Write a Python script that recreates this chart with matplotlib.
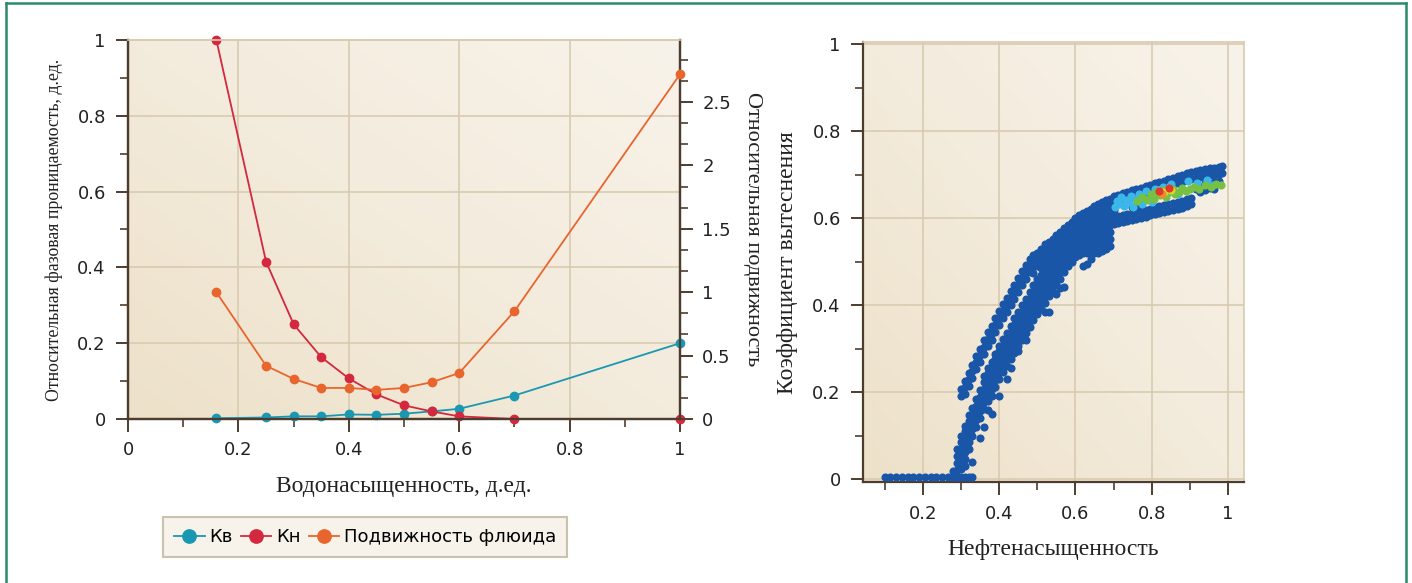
import numpy as np
import matplotlib
matplotlib.use("Agg")
import matplotlib.pyplot as plt
from matplotlib.ticker import MultipleLocator, FuncFormatter
from matplotlib.lines import Line2D
from matplotlib.colors import LinearSegmentedColormap

# ---------------- left chart data ----------------
sw = [0.16, 0.25, 0.30, 0.35, 0.40, 0.45, 0.50, 0.55, 0.60, 0.70, 1.00]
kw = [0.002, 0.004, 0.007, 0.007, 0.012, 0.011, 0.014, 0.020, 0.027, 0.062, 0.200]
ko = [1.000, 0.415, 0.250, 0.163, 0.107, 0.065, 0.036, 0.020, 0.007, 0.000, 0.000]
mob = [1.00, 0.42, 0.316, 0.245, 0.245, 0.23, 0.245, 0.29, 0.363, 0.85, 2.72]
series_names = ["Кв", "Кн", "Подвижность флюида"]

# ---------------- right chart data (columns of points) ----------------
blue_x = [0.100, 0.115, 0.130, 0.145, 0.160, 0.175, 0.190, 0.205, 0.220, 0.235,
          0.250, 0.265, 0.280, 0.290, 0.300, 0.310, 0.320, 0.330, 0.340, 0.350,
          0.360, 0.370, 0.380, 0.390, 0.400, 0.410, 0.420, 0.430, 0.440, 0.450,
          0.460, 0.470, 0.480, 0.490, 0.500, 0.510, 0.520, 0.530, 0.540, 0.550,
          0.560, 0.570, 0.580, 0.590, 0.600, 0.610, 0.620, 0.630, 0.640, 0.650,
          0.660, 0.670, 0.680, 0.690, 0.700, 0.712, 0.724, 0.736, 0.748, 0.760,
          0.772, 0.784, 0.796, 0.808, 0.820, 0.832, 0.844, 0.856, 0.868, 0.880,
          0.892, 0.904, 0.916, 0.928, 0.940, 0.952, 0.964, 0.976, 0.984]
blue_y = [
    [0.005], [0.005], [0.005], [0.005], [0.005], [0.005], [0.005], [0.005], [0.005], [0.005],
    [0.005], [0.005], [0.005, 0.018],
    [0.005, 0.020, 0.036, 0.052, 0.068],
    [0.005, 0.022, 0.038, 0.054, 0.070, 0.086, 0.100, 0.190, 0.206],
    [0.005, 0.030, 0.046, 0.062, 0.078, 0.094, 0.110, 0.122, 0.196, 0.212, 0.226],
    [0.005, 0.070, 0.086, 0.102, 0.118, 0.134, 0.148, 0.214, 0.230, 0.244],
    [0.005, 0.040, 0.100, 0.116, 0.132, 0.148, 0.164, 0.232, 0.248, 0.262],
    [0.120, 0.136, 0.152, 0.168, 0.184, 0.252, 0.268, 0.282],
    [0.095, 0.140, 0.156, 0.172, 0.188, 0.204, 0.270, 0.286, 0.300],
    [0.120, 0.160, 0.176, 0.192, 0.208, 0.224, 0.236, 0.288, 0.304, 0.320],
    [0.158, 0.180, 0.196, 0.212, 0.228, 0.244, 0.256, 0.306, 0.322, 0.338],
    [0.150, 0.190, 0.206, 0.222, 0.238, 0.254, 0.270, 0.320, 0.336, 0.352],
    [0.212, 0.228, 0.244, 0.260, 0.276, 0.288, 0.338, 0.354, 0.370],
    [0.190, 0.230, 0.246, 0.262, 0.278, 0.294, 0.306, 0.355, 0.370, 0.386],
    [0.245, 0.261, 0.277, 0.293, 0.309, 0.322, 0.370, 0.386, 0.402],
    [0.230, 0.260, 0.276, 0.292, 0.308, 0.324, 0.336, 0.385, 0.400, 0.416],
    [0.256, 0.275, 0.291, 0.307, 0.323, 0.339, 0.352, 0.400, 0.416, 0.432],
    [0.290, 0.306, 0.322, 0.338, 0.354, 0.370, 0.415, 0.430, 0.446],
    [0.295, 0.305, 0.321, 0.337, 0.353, 0.369, 0.385, 0.430, 0.446, 0.462],
    [0.320, 0.336, 0.352, 0.368, 0.384, 0.400, 0.446, 0.462, 0.478],
    [0.320, 0.335, 0.351, 0.367, 0.383, 0.399, 0.415, 0.460, 0.476, 0.492],
    [0.350, 0.366, 0.382, 0.398, 0.414, 0.430, 0.476, 0.492, 0.506],
    [0.365, 0.381, 0.397, 0.413, 0.429, 0.445, 0.474, 0.490, 0.506, 0.516],
    [0.380, 0.396, 0.412, 0.428, 0.444, 0.460, 0.490, 0.506, 0.520],
    [0.390, 0.406, 0.422, 0.438, 0.454, 0.470, 0.486, 0.502, 0.518, 0.530],
    [0.383, 0.405, 0.421, 0.437, 0.453, 0.469, 0.485, 0.501, 0.517, 0.533, 0.540],
    [0.383, 0.420, 0.436, 0.452, 0.468, 0.484, 0.500, 0.516, 0.532, 0.545],
    [0.430, 0.446, 0.462, 0.478, 0.494, 0.510, 0.526, 0.542, 0.552],
    [0.425, 0.445, 0.461, 0.477, 0.493, 0.509, 0.525, 0.541, 0.557, 0.560],
    [0.440, 0.460, 0.476, 0.492, 0.508, 0.524, 0.540, 0.556, 0.568],
    [0.442, 0.475, 0.491, 0.507, 0.523, 0.539, 0.555, 0.571, 0.577],
    [0.490, 0.506, 0.522, 0.538, 0.554, 0.570, 0.585],
    [0.500, 0.516, 0.532, 0.548, 0.564, 0.580, 0.592],
    [0.510, 0.526, 0.542, 0.558, 0.574, 0.590, 0.600],
    [0.515, 0.531, 0.547, 0.563, 0.579, 0.595, 0.606],
    [0.490, 0.520, 0.536, 0.552, 0.568, 0.584, 0.600, 0.612],
    [0.495, 0.520, 0.536, 0.552, 0.568, 0.584, 0.600, 0.616],
    [0.505, 0.520, 0.536, 0.552, 0.568, 0.584, 0.600, 0.616, 0.622],
    [0.520, 0.536, 0.552, 0.568, 0.584, 0.600, 0.616, 0.627],
    [0.520, 0.536, 0.552, 0.568, 0.584, 0.600, 0.616, 0.632],
    [0.525, 0.541, 0.557, 0.573, 0.589, 0.605, 0.621, 0.636],
    [0.530, 0.546, 0.562, 0.578, 0.594, 0.610, 0.626, 0.641],
    [0.535, 0.551, 0.567, 0.583, 0.599, 0.615, 0.631, 0.645],
    [0.586, 0.602, 0.618, 0.634, 0.650],
    [0.588, 0.604, 0.638, 0.654],
    [0.590, 0.606, 0.642, 0.658],
    [0.593, 0.609, 0.645, 0.661],
    [0.596, 0.612, 0.625, 0.648, 0.664],
    [0.598, 0.614, 0.628, 0.651, 0.667],
    [0.600, 0.616, 0.654, 0.670],
    [0.603, 0.619, 0.657, 0.674],
    [0.606, 0.622, 0.660, 0.677],
    [0.609, 0.625, 0.663, 0.680],
    [0.611, 0.627, 0.683],
    [0.614, 0.630, 0.670, 0.686],
    [0.616, 0.632, 0.690],
    [0.619, 0.635, 0.677, 0.693],
    [0.622, 0.638, 0.680, 0.697],
    [0.624, 0.640, 0.684, 0.700],
    [0.628, 0.644, 0.688, 0.704],
    [0.632, 0.647, 0.690, 0.707],
    [0.668, 0.692, 0.709],
    [0.660, 0.672, 0.694, 0.711],
    [0.665, 0.680, 0.696, 0.714],
    [0.670, 0.698, 0.715],
    [0.668, 0.683, 0.700, 0.716],
    [0.686, 0.702, 0.718],
    [0.704, 0.720],
]

light_x = [0.703, 0.708, 0.715, 0.720, 0.727, 0.733, 0.740, 0.746, 0.752, 0.760,
           0.766, 0.775, 0.785, 0.790, 0.800, 0.810, 0.830, 0.850, 0.870, 0.895,
           0.920, 0.945, 0.960]
light_y = [0.625, 0.640, 0.632, 0.648, 0.628, 0.642, 0.636, 0.650, 0.626, 0.644,
           0.656, 0.632, 0.662, 0.645, 0.638, 0.668, 0.672, 0.678, 0.655, 0.685,
           0.680, 0.688, 0.675]
green_x = [0.762, 0.775, 0.787, 0.798, 0.805, 0.812, 0.822, 0.830, 0.838, 0.846,
           0.855, 0.862, 0.872, 0.880, 0.890, 0.900, 0.912, 0.925, 0.940, 0.955,
           0.970, 0.982]
green_y = [0.640, 0.648, 0.642, 0.655, 0.645, 0.660, 0.652, 0.665, 0.648, 0.660,
           0.668, 0.655, 0.660, 0.670, 0.662, 0.668, 0.672, 0.666, 0.676, 0.672,
           0.678, 0.677]
yellow_x = [0.832, 0.852]
yellow_y = [0.660, 0.664]
orange_x = [0.826]
orange_y = [0.655]
red_x = [0.818, 0.846]
red_y = [0.662, 0.669]

# ---------------- styling ----------------
SERIF = ["Liberation Serif", "DejaVu Serif"]
SANS = ["DejaVu Sans"]
plt.rcParams["font.family"] = SANS
BROWN = "#4e3d2e"
GRID = "#d8cbb0"
TICKCOL = "#222222"
C_KW = "#1a98b2"
C_KO = "#d4283e"
C_MOB = "#e8652d"
BLUE = "#1a56a8"

fig = plt.figure(figsize=(14.12, 5.83), dpi=100)
fig.patch.set_facecolor("white")

bg_cmap = LinearSegmentedColormap.from_list("bg", ["#ede1c9", "#f3ebdc", "#f8f3ea"])
gx, gy = np.meshgrid(np.linspace(0, 1, 64), np.linspace(0, 1, 64))
grad = (gx + gy) / 2.0


def add_bg(ax):
    ax.imshow(grad, extent=(0, 1, 0, 1), transform=ax.transAxes, origin="lower",
              cmap=bg_cmap, aspect="auto", zorder=-10, interpolation="bicubic")


def fmt(v, pos):
    return "%g" % round(v, 3)


# ================= LEFT CHART =================
ax = fig.add_axes([0.0907, 0.2813, 0.3909, 0.6501])
add_bg(ax)
ax.set_xlim(0, 1)
ax.set_ylim(0, 1)
ax.grid(True, which="major", color=GRID, lw=1.2, zorder=0)
ax.set_axisbelow(True)

l1, = ax.plot(sw, kw, color=C_KW, lw=1.3, marker="o", ms=6, zorder=3, clip_on=False)
l2, = ax.plot(sw, ko, color=C_KO, lw=1.3, marker="o", ms=6, zorder=3, clip_on=False)

ax2 = ax.twinx()
ax2.set_ylim(0, 2.99)
l3, = ax2.plot(sw, mob, color=C_MOB, lw=1.3, marker="o", ms=6, zorder=3, clip_on=False)

ax.xaxis.set_major_locator(MultipleLocator(0.2))
ax.xaxis.set_minor_locator(MultipleLocator(0.1))
ax.yaxis.set_major_locator(MultipleLocator(0.2))
ax.yaxis.set_minor_locator(MultipleLocator(0.1))
ax.xaxis.set_major_formatter(FuncFormatter(fmt))
ax.yaxis.set_major_formatter(FuncFormatter(fmt))
ax2.yaxis.set_major_locator(MultipleLocator(0.5))
ax2.yaxis.set_minor_locator(MultipleLocator(0.5 / 3))
ax2.yaxis.set_major_formatter(FuncFormatter(fmt))

for a in (ax, ax2):
    for side in ("left", "bottom", "right"):
        a.spines[side].set_color(BROWN)
        a.spines[side].set_linewidth(1.6)
    a.spines["top"].set_color(GRID)
    a.spines["top"].set_linewidth(1.2)
    a.tick_params(which="major", direction="out", length=9, width=1.4, color=BROWN,
                  labelsize=13, labelcolor=TICKCOL, pad=7)
    a.tick_params(which="minor", direction="out", length=6, width=1.2, color=BROWN)

ax.set_xlabel("Водонасыщенность, д.ед.", fontsize=17, family=SERIF, color="#222", labelpad=12)
ax.set_ylabel("Относительная фазовая проницаемость, д.ед.", fontsize=12.8, family=SERIF,
              color="#222", labelpad=10)
ax2.set_ylabel("Относительная подвижность", fontsize=16, family=SERIF, color="#222",
               rotation=270, labelpad=22)

leg = fig.legend([l1, l2, l3], series_names, loc="center", ncol=3,
                 bbox_to_anchor=(0.2585, 0.079), fontsize=13, frameon=True,
                 fancybox=False, handlelength=1.7, handletextpad=0.25,
                 columnspacing=0.45, borderpad=0.6, markerscale=1.6)
leg.get_frame().set_facecolor("#f5f1e6")
leg.get_frame().set_edgecolor("#bdb49c")
leg.get_frame().set_linewidth(1.5)

# ================= RIGHT CHART =================
bx = fig.add_axes([0.6112, 0.1724, 0.2695, 0.7556])
add_bg(bx)
bx.set_xlim(0.043, 1.041)
bx.set_ylim(-0.008, 1.005)
bx.grid(True, which="major", color=GRID, lw=1.2, zorder=0)
bx.set_axisbelow(True)

sx = [x for x, ys in zip(blue_x, blue_y) for _ in ys]
sy = [y for ys in blue_y for y in ys]
ms = 34
bx.scatter(sx, sy, s=ms, color=BLUE, linewidths=0, zorder=3)
bx.scatter(light_x, light_y, s=ms, color="#3cb7ea", linewidths=0, zorder=4)
bx.scatter(green_x, green_y, s=ms, color="#76c044", linewidths=0, zorder=5)
bx.scatter(yellow_x, yellow_y, s=ms, color="#d6d72e", linewidths=0, zorder=5)
bx.scatter(orange_x, orange_y, s=ms, color="#f08a2c", linewidths=0, zorder=6)
bx.scatter(red_x, red_y, s=ms, color="#e3352a", linewidths=0, zorder=6)

bx.xaxis.set_major_locator(MultipleLocator(0.2))
bx.xaxis.set_minor_locator(MultipleLocator(0.1))
bx.yaxis.set_major_locator(MultipleLocator(0.2))
bx.yaxis.set_minor_locator(MultipleLocator(0.1))
bx.xaxis.set_major_formatter(FuncFormatter(fmt))
bx.yaxis.set_major_formatter(FuncFormatter(fmt))
for side in ("left", "bottom"):
    bx.spines[side].set_color(BROWN)
    bx.spines[side].set_linewidth(1.6)
for side in ("top", "right"):
    bx.spines[side].set_color(GRID)
    bx.spines[side].set_linewidth(1.2)
bx.tick_params(which="major", direction="out", length=9, width=1.4, color=BROWN,
               labelsize=13, labelcolor=TICKCOL, pad=7)
bx.tick_params(which="minor", direction="out", length=6, width=1.2, color=BROWN)
bx.set_xlabel("Нефтенасыщенность", fontsize=17, family=SERIF, color="#222", labelpad=12)
bx.set_ylabel("Коэффициент вытеснения", fontsize=17, family=SERIF, color="#222", labelpad=10)

# ================= green frame =================
FRAME = "#2a8a6c"
fig.add_artist(Line2D([6 / 1412, 6 / 1412], [0, 1 - 3 / 583], color=FRAME, lw=1.8,
                      transform=fig.transFigure))
fig.add_artist(Line2D([1406 / 1412, 1406 / 1412], [0, 1 - 3 / 583], color=FRAME, lw=1.8,
                      transform=fig.transFigure))
fig.add_artist(Line2D([6 / 1412, 1406 / 1412], [1 - 3 / 583, 1 - 3 / 583], color=FRAME,
                      lw=1.8, transform=fig.transFigure))

fig.savefig("out.png", dpi=100, facecolor="white")
